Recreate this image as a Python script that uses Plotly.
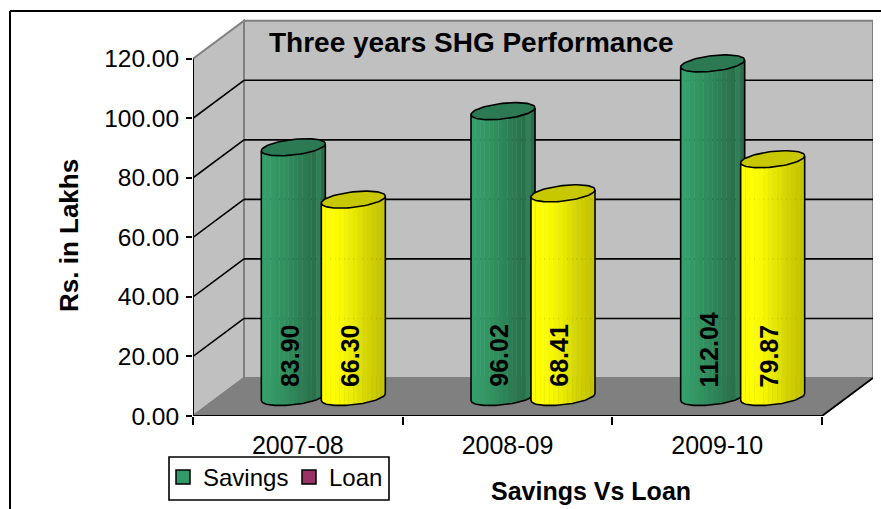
import numpy as np
import plotly.graph_objects as go

categories = ["2007-08", "2008-09", "2009-10"]
savings = [83.90, 96.02, 112.04]
loan = [66.30, 68.41, 79.87]
y_ticks = [0, 20, 40, 60, 80, 100, 120]
series_names = ["Savings", "Loan"]
chart_title = "Three years SHG Performance"
y_title = "Rs. in Lakhs"
x_title = "Savings Vs Loan"

FONT = "Liberation Sans"
W, H = 881, 509
L, R, T, B = 193, 873, 18, 416       # plot box in pixels
PX = 629 / 3                          # pixels per category
PY = 2.977                            # pixels per value unit
DX, DY = 51 / PX, 38 / PY             # depth of the 3D box in data units
xmax, ymax = (R - L) / PX, (B - T) / PY

def paper_x(p):
    return (p - L) / (R - L)
def paper_y(p):
    return (B - p) / (B - T)

GREEN = ["#35A06C", "#349D6A", "#339966", "#329663", "#319260", "#308E5E", "#2E895A",
         "#2D8457", "#2C7F54", "#2B7A51", "#2A754E", "#29704B", "#2F7F57", "#286C49"]
YELLOW = ["#FFFF00", "#FFFF00", "#FFFF00", "#FCFC00", "#F8F800", "#F3F300", "#EDED00",
          "#E6E600", "#DFDF00", "#D8D800", "#D2D200", "#CCCC00", "#C8C800", "#C4C400"]
TOP_GREEN = "#2B7A53"
TOP_YELLOW = "#C8C800"
HALF_W, TILT, HALF_H = 32 / PX, 3.5 / PY, 7.8 / PY

fig = go.Figure()

def ellipse_y(x, cy, sign):
    c = np.clip((x) / HALF_W, -1, 1)
    s = np.sqrt(1 - c ** 2)
    return cy + TILT * c + sign * HALF_H * s

def cylinder(cx, value, colors, top_color):
    base = DY / 2
    cxx = cx + DX / 2
    n = len(colors)
    edges = np.linspace(-HALF_W, HALF_W, n + 1)
    for i, col in enumerate(colors):
        xs = np.linspace(edges[i], edges[i + 1], 6)
        low = ellipse_y(xs, base, -1)
        up = base + value + TILT * np.clip(xs / HALF_W, -1, 1)
        fig.add_trace(go.Scatter(
            x=list(cxx + xs) + list(cxx + xs[::-1]),
            y=list(low) + list(up[::-1]),
            mode="lines", fill="toself", fillcolor=col, line=dict(width=0.6, color=col),
            hoverinfo="skip", showlegend=False, cliponaxis=False))
    # silhouette
    xs = np.linspace(-HALF_W, HALF_W, 60)
    low = ellipse_y(xs, base, -1)
    fig.add_trace(go.Scatter(
        x=[cxx - HALF_W] + list(cxx + xs) + [cxx + HALF_W],
        y=[base + value - TILT] + list(low) + [base + value + TILT],
        mode="lines", line=dict(width=1.6, color="black"),
        hoverinfo="skip", showlegend=False))
    # top cap
    t = np.linspace(0, 2 * np.pi, 80)
    fig.add_trace(go.Scatter(
        x=cxx + HALF_W * np.cos(t),
        y=base + value + TILT * np.cos(t) + HALF_H * np.sin(t),
        mode="lines", fill="toself", fillcolor=top_color, line=dict(width=1.6, color="black"),
        hoverinfo="skip", showlegend=False))

OFF = 30 / PX
for i in range(len(categories)):
    cylinder(i + 0.5 - OFF, savings[i], GREEN, TOP_GREEN)
    cylinder(i + 0.5 + OFF, loan[i], YELLOW, TOP_YELLOW)

# legend keys
for name, col in zip(series_names, ["#339966", "#993366"]):
    fig.add_trace(go.Scatter(
        x=[None], y=[None], mode="markers", name=name,
        marker=dict(symbol="square", size=14, color=col, line=dict(width=1.5, color="black"))))

GRAY = "#808080"
X1 = len(categories)
shapes = [
    # left wall
    dict(type="path", path=f"M 0 0 L {DX} {DY} L {DX} {120 + DY} L 0 120 Z",
         fillcolor="#C0C0C0", line=dict(color=GRAY, width=2)),
    # back wall
    dict(type="rect", x0=DX, x1=X1 + DX, y0=DY, y1=120 + DY,
         fillcolor="#C0C0C0", line=dict(color=GRAY, width=2)),
    # floor
    dict(type="path", path=f"M 0 0 L {X1} 0 L {X1 + DX} {DY} L {DX} {DY} Z",
         fillcolor="#808080", line=dict(color=GRAY, width=1.5)),
]
for v in y_ticks[1:-1]:
    shapes.append(dict(type="line", x0=0, x1=DX, y0=v, y1=v + DY, line=dict(color="black", width=1.6)))
    shapes.append(dict(type="line", x0=DX, x1=X1 + DX, y0=v + DY, y1=v + DY, line=dict(color="black", width=1.6)))
shapes += [
    dict(type="line", x0=0, x1=0, y0=0, y1=120, line=dict(color="black", width=2)),
    dict(type="line", x0=0, x1=X1, y0=0, y1=0, line=dict(color="black", width=2)),
    dict(type="line", x0=X1, x1=X1 + DX, y0=0, y1=DY, line=dict(color="black", width=1.8)),
    # outer frame, running off the right and bottom of the picture
    dict(type="line", xref="paper", yref="paper", x0=paper_x(10), x1=paper_x(885),
         y0=paper_y(11), y1=paper_y(11), line=dict(color="black", width=2)),
    dict(type="line", xref="paper", yref="paper", x0=paper_x(10), x1=paper_x(10),
         y0=paper_y(11), y1=paper_y(515), line=dict(color="black", width=2)),
    # legend box
    dict(type="rect", xref="paper", yref="paper", x0=paper_x(169), x1=paper_x(389),
         y0=paper_y(457), y1=paper_y(500), line=dict(color="black", width=1.6)),
]
for s in shapes:
    s["layer"] = "below"

annotations = [
    dict(text=f"<b>{chart_title}</b>", xref="paper", yref="paper", x=paper_x(471), y=paper_y(42),
         xanchor="center", yanchor="middle",
         showarrow=False, font=dict(family=FONT, size=28, color="black")),
    dict(text=f"<b>{y_title}</b>", xref="paper", yref="paper", x=paper_x(69), y=paper_y(236),
         xanchor="center", yanchor="middle",
         textangle=-90, showarrow=False, font=dict(family=FONT, size=26, color="black")),
    dict(text=f"<b>{x_title}</b>", xref="paper", yref="paper", x=paper_x(591), y=paper_y(491),
         xanchor="center", yanchor="middle",
         showarrow=False, font=dict(family=FONT, size=25, color="black")),
]
for i in range(len(categories)):
    for off, vals in ((-OFF, savings), (OFF, loan)):
        annotations.append(dict(
            text=f"<b>{vals[i]:.2f}</b>", x=i + 0.5 + off + DX / 2 - 4 / PX, y=9, xref="x", yref="y",
            yanchor="bottom", xanchor="center", textangle=-90, showarrow=False,
            font=dict(family=FONT, size=25, color="black")))

fig.update_layout(
    width=W, height=H, autosize=False,
    margin=dict(l=L, r=W - R, t=T, b=H - B),
    paper_bgcolor="white", plot_bgcolor="white",
    font=dict(family=FONT, color="black"),
    shapes=shapes, annotations=annotations,
    showlegend=True,
    legend=dict(orientation="h", x=paper_x(163), xanchor="left", y=paper_y(455), yanchor="top",
                entrywidth=81, entrywidthmode="pixels",
                bgcolor="rgba(0,0,0,0)", borderwidth=0,
                font=dict(family=FONT, size=24, color="black"), itemclick=False, itemdoubleclick=False),
    xaxis=dict(range=[0, xmax], tickmode="array", tickvals=[i + 0.5 for i in range(len(categories))],
               ticktext=categories, ticks="", showgrid=False, zeroline=False, showline=False,
               tickfont=dict(family=FONT, size=25, color="black"), ticklabelstandoff=12,
               minor=dict(tickmode="array", tickvals=list(range(len(categories) + 1)), ticks="outside",
                          ticklen=8, tickwidth=2, tickcolor="black", showgrid=False)),
    yaxis=dict(range=[0, ymax], tickmode="array", tickvals=y_ticks, tickformat=".2f", ticks="outside",
               ticklen=6, tickwidth=2, tickcolor="black", showgrid=False, zeroline=False, showline=False,
               ticklabelstandoff=2, tickfont=dict(family=FONT, size=24.5, color="black")),
)
fig.write_html("out.html", config={"displayModeBar": False},
               post_script="document.body.style.margin='0';document.documentElement.style.overflow='hidden';")
